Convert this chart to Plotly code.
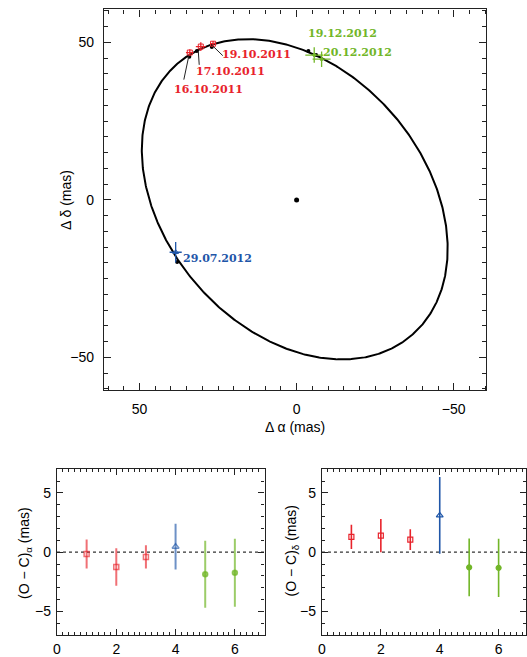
import numpy as np
import plotly.graph_objects as go

# ---------------- data ----------------
epochs = ["16.10.2011", "17.10.2011", "19.10.2011", "29.07.2012", "19.12.2012", "20.12.2012"]
obs_index = [1, 2, 3, 4, 5, 6]
obs_dalpha = [34.0, 30.5, 26.6, 38.5, -5.6, -7.95]      # mas
obs_ddelta = [46.8, 48.7, 49.6, -16.6, 46.0, 44.7]      # mas
res_alpha = [-0.15, -1.25, -0.40, 0.47, -1.86, -1.74]   # (O-C) alpha, mas
err_alpha = [1.23, 1.58, 0.98, 1.93, 2.83, 2.87]
res_delta = [1.30, 1.40, 1.06, 3.10, -1.28, -1.32]      # (O-C) delta, mas
err_delta = [1.02, 1.40, 0.87, 3.24, 2.44, 2.46]

# projected relative orbit (ellipse parameters)
orbit_center = (0.6, 0.2)
orbit_a = 57.0
orbit_b = 41.3
orbit_theta_deg = 49.0

groups = [
    dict(idx=[0, 1, 2], color="#e8232b", light="rgba(232,35,43,0.65)", symbol="square-open", size=5, msize=5),
    dict(idx=[3], color="#1f56a8", light="rgba(31,86,168,0.65)", symbol="triangle-up-open", size=6, msize=5),
    dict(idx=[4, 5], color="#72b628", light="rgba(114,182,40,0.7)", symbol="circle", size=5, msize=3),
]

W, H = 527, 657


def px_dom_x(a, b):
    return [a / W, b / W]


def px_dom_y(top, bottom):
    return [(H - bottom) / H, (H - top) / H]


fig = go.Figure()

# orbit
t = np.linspace(0, 2 * np.pi, 721)
th = np.radians(orbit_theta_deg)
ex = orbit_center[0] + orbit_a * np.cos(t) * np.cos(th) - orbit_b * np.sin(t) * np.sin(th)
ey = orbit_center[1] + orbit_a * np.cos(t) * np.sin(th) + orbit_b * np.sin(t) * np.cos(th)
fig.add_trace(go.Scatter(x=ex, y=ey, mode="lines", line=dict(color="black", width=2),
                         hoverinfo="skip", showlegend=False, xaxis="x", yaxis="y"))
# primary
fig.add_trace(go.Scatter(x=[0], y=[0], mode="markers", marker=dict(color="black", size=5),
                         showlegend=False, xaxis="x", yaxis="y"))
# model positions = observed - residual
mod_a = [o - r for o, r in zip(obs_dalpha, res_alpha)]
mod_d = [o - r for o, r in zip(obs_ddelta, res_delta)]
fig.add_trace(go.Scatter(x=mod_a, y=mod_d, mode="markers", marker=dict(color="black", size=4),
                         showlegend=False, xaxis="x", yaxis="y"))

for g in groups:
    ix = g["idx"]
    fig.add_trace(go.Scatter(
        x=[obs_dalpha[i] for i in ix], y=[obs_ddelta[i] for i in ix], mode="markers",
        marker=dict(color=g["color"], size=g["msize"], symbol=g["symbol"], line=dict(width=1, color=g["color"])),
        error_x=dict(type="data", array=[err_alpha[i] for i in ix], color=g["color"], thickness=1.3, width=0),
        error_y=dict(type="data", array=[err_delta[i] for i in ix], color=g["color"], thickness=1.3, width=0),
        showlegend=False, xaxis="x", yaxis="y"))
    # residuals alpha (left)
    fig.add_trace(go.Scatter(
        x=[obs_index[i] for i in ix], y=[res_alpha[i] for i in ix], mode="markers",
        marker=dict(color=g["light"], size=g["size"], symbol=g["symbol"], line=dict(width=1.5, color=g["light"])),
        error_y=dict(type="data", array=[err_alpha[i] for i in ix], color=g["light"], thickness=2, width=0),
        showlegend=False, xaxis="x2", yaxis="y2"))
    # residuals delta (right)
    fig.add_trace(go.Scatter(
        x=[obs_index[i] for i in ix], y=[res_delta[i] for i in ix], mode="markers",
        marker=dict(color=g["color"], size=g["size"], symbol=g["symbol"], line=dict(width=1.2, color=g["color"])),
        error_y=dict(type="data", array=[err_delta[i] for i in ix], color=g["color"], thickness=1.6, width=0),
        showlegend=False, xaxis="x3", yaxis="y3"))

tickfont = dict(family="Liberation Sans, Arial, sans-serif", size=14, color="black")
common = dict(showline=True, linecolor="#222", linewidth=1.3, mirror="ticks", ticks="inside",
              tickcolor="#222", showgrid=False, zeroline=False, tickfont=tickfont)

main_label_vals = [-50, 0, 50]
main_label_text = ["−50", "0", "50"]
main_mid_vals = list(range(-60, 61, 10))
res_x_label_vals = [0, 2, 4, 6]
res_x_label_text = ["0", "2", "4", "6"]
res_x_mid_vals = list(range(0, 8))
res_y_vals = [-5, 0, 5]
res_y_text = ["−5", "0", "5"]

main_xr = [61.3, -60.4]
main_yr = [-60.4, 60.5]
mdx = px_dom_x(101, 487)
mdy = px_dom_y(9.5, 395)
ldx = px_dom_x(53.5, 263)
rdx = px_dom_x(321, 527)
bdy = px_dom_y(475, 643)


def minor(d, ln):
    return dict(dtick=d, ticklen=ln, ticks="inside", tickcolor="#222", tickwidth=1)


def overlay(over, anchor, dom, rng, vals, ln):
    # tick-only axis used to draw longer intermediate ticks without labels
    return dict(overlaying=over, anchor=anchor, domain=dom, range=rng, tickvals=vals, ticks="inside",
                ticklen=ln, tickwidth=1.2, tickcolor="#222", mirror="ticks", showline=True,
                linecolor="#222", linewidth=1.3, showticklabels=False, showgrid=False, zeroline=False)


fig.update_layout(
    width=W, height=H, margin=dict(l=0, r=0, t=0, b=0),
    paper_bgcolor="white", plot_bgcolor="white", showlegend=False,
    xaxis=dict(domain=mdx, range=main_xr, tickvals=main_label_vals, ticktext=main_label_text,
               ticklen=7, tickwidth=1.2, minor=minor(5, 4), anchor="y", ticklabelstandoff=6, **common),
    yaxis=dict(domain=mdy, range=main_yr, tickvals=main_label_vals, ticktext=main_label_text,
               ticklen=7, tickwidth=1.2, minor=minor(5, 4), anchor="x", ticklabelstandoff=6, **common),
    xaxis2=dict(domain=ldx, range=[0, 7], tickvals=res_x_label_vals, ticktext=res_x_label_text,
                ticklen=6, tickwidth=1.2, minor=minor(0.2, 3), anchor="y2", ticklabelstandoff=1, **common),
    yaxis2=dict(domain=bdy, range=[-7, 7], tickvals=res_y_vals, ticktext=res_y_text,
                ticklen=6, tickwidth=1.2, minor=minor(1, 3), anchor="x2", ticklabelstandoff=2, **common),
    xaxis3=dict(domain=rdx, range=[0, 6.93], tickvals=res_x_label_vals, ticktext=res_x_label_text,
                ticklen=6, tickwidth=1.2, minor=minor(0.2, 3), anchor="y3", ticklabelstandoff=1, **common),
    yaxis3=dict(domain=bdy, range=[-7, 7], tickvals=res_y_vals, ticktext=res_y_text,
                ticklen=6, tickwidth=1.2, minor=minor(1, 3), anchor="x3", ticklabelstandoff=2, **common),
    xaxis4=overlay("x", "y", mdx, main_xr, main_mid_vals, 7),
    yaxis4=overlay("y", "x", mdy, main_yr, main_mid_vals, 7),
    xaxis5=overlay("x2", "y2", ldx, [0, 7], res_x_mid_vals, 6),
    xaxis6=overlay("x3", "y3", rdx, [0, 6.93], res_x_mid_vals, 6),
)

# zero lines in residual panels
for xr, yr in (("x2", "y2"), ("x3", "y3")):
    fig.add_shape(type="line", xref=xr, yref=yr, x0=0, x1=7, y0=0, y1=0,
                  line=dict(color="#333", width=1.2, dash="dot"), layer="below")

# leader lines for October 2011 labels
leaders = [((34.3, 45.8), (35.9, 38.2)), ((31.3, 47.2), (31.0, 42.9)), ((26.8, 49.0), (23.5, 45.8))]
for (x0, y0), (x1, y1) in leaders:
    fig.add_shape(type="line", xref="x", yref="y", x0=x0, y0=y0, x1=x1, y1=y1,
                  line=dict(color="#222", width=1))

labfont = "DejaVu Serif, serif"
labels = [
    ("16.10.2011", 39.8, 35.1, "#e8232b"),
    ("17.10.2011", 32.7, 40.8, "#e8232b"),
    ("19.10.2011", 24.4, 46.1, "#e8232b"),
    ("29.07.2012", 36.9, -18.7, "#1f56a8"),
    ("19.12.2012", -3.1, 52.7, "#72b628"),
    ("20.12.2012", -7.8, 46.9, "#72b628"),
]
for txt, x, y, c in labels:
    fig.add_annotation(x=x, y=y, xref="x", yref="y", text="<b>%s</b>" % txt, showarrow=False,
                       xanchor="left", yanchor="middle", font=dict(family=labfont, size=11, color=c))

titlefont = dict(family="Liberation Sans, Arial, sans-serif", size=14, color="black")
fig.add_annotation(x=294 / W, y=(H - 432) / H, xref="paper", yref="paper", text="Δ α (mas)",
                   showarrow=False, font=titlefont, xanchor="center", yanchor="middle")
fig.add_annotation(x=62 / W, y=(H - 202) / H, xref="paper", yref="paper", text="Δ δ (mas)",
                   showarrow=False, font=titlefont, textangle=-90, xanchor="center", yanchor="middle")
fig.add_annotation(x=21 / W, y=(H - 560) / H, xref="paper", yref="paper", text="(O − C)<sub>α</sub> (mas)",
                   showarrow=False, font=titlefont, textangle=-90, xanchor="center", yanchor="middle")
fig.add_annotation(x=291 / W, y=(H - 558) / H, xref="paper", yref="paper", text="(O − C)<sub>δ</sub> (mas)",
                   showarrow=False, font=titlefont, textangle=-90, xanchor="center", yanchor="middle")

pin = ("document.documentElement.style.margin='0';document.body.style.margin='0';"
       "document.body.style.overflow='hidden';"
       "var d=document.getElementById('{plot_id}');"
       "d.style.position='fixed';d.style.left='0px';d.style.top='0px';")
fig.write_html("out.html", config={"displayModeBar": False}, post_script=pin)
